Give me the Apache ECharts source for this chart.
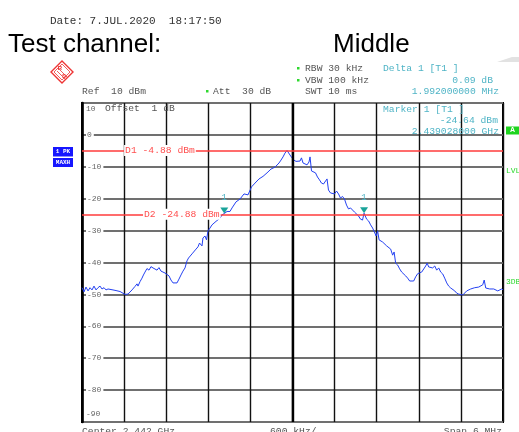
<!DOCTYPE html>
<html>
<head>
<meta charset="utf-8">
<script src="https://cdn.jsdelivr.net/npm/echarts@6/dist/echarts.min.js"></script>
<style>
  html, body { margin: 0; padding: 0; background: #fff; }
  #chart { width: 519px; height: 432px; }
</style>
</head>
<body>
<div id="chart"></div>
<script>
// Analyzer sweep settings
const centerMHz = 2442;
const spanMHz = 6;

// Max-hold trace: frequency (MHz) and level (dBm)
const freqMHz = [
  2439.000, 2439.029, 2439.057, 2439.086, 2439.114, 2439.143, 2439.171, 2439.200, 2439.228, 2439.257,
  2439.285, 2439.314, 2439.342, 2439.371, 2439.399, 2439.442, 2439.485, 2439.513, 2439.542, 2439.570,
  2439.613, 2439.656, 2439.684, 2439.713, 2439.755, 2439.784, 2439.798, 2439.827, 2439.855, 2439.876,
  2439.898, 2439.926, 2439.955, 2439.983, 2440.012, 2440.040, 2440.069, 2440.097, 2440.126, 2440.154,
  2440.183, 2440.211, 2440.240, 2440.268, 2440.297, 2440.325, 2440.354, 2440.382, 2440.411, 2440.439,
  2440.468, 2440.496, 2440.518, 2440.539, 2440.568, 2440.596, 2440.625, 2440.653, 2440.675, 2440.696,
  2440.710, 2440.724, 2440.753, 2440.774, 2440.796, 2440.824, 2440.853, 2440.881, 2440.910, 2440.938,
  2440.967, 2440.995, 2441.028, 2441.067, 2441.109, 2441.138, 2441.166, 2441.195, 2441.223, 2441.252,
  2441.280, 2441.309, 2441.337, 2441.366, 2441.394, 2441.416, 2441.437, 2441.466, 2441.494, 2441.523,
  2441.551, 2441.580, 2441.608, 2441.637, 2441.665, 2441.694, 2441.722, 2441.751, 2441.779, 2441.808,
  2441.836, 2441.865, 2441.893, 2441.922, 2441.943, 2441.964, 2441.993, 2442.021, 2442.050, 2442.078,
  2442.107, 2442.128, 2442.150, 2442.178, 2442.207, 2442.235, 2442.250, 2442.271, 2442.299, 2442.328,
  2442.356, 2442.385, 2442.413, 2442.442, 2442.470, 2442.492, 2442.513, 2442.542, 2442.570, 2442.599,
  2442.627, 2442.656, 2442.684, 2442.713, 2442.741, 2442.770, 2442.798, 2442.827, 2442.855, 2442.884,
  2442.912, 2442.941, 2442.969, 2442.998, 2443.020, 2443.056, 2443.085, 2443.113, 2443.142, 2443.170,
  2443.192, 2443.213, 2443.234, 2443.256, 2443.285, 2443.313, 2443.342, 2443.370, 2443.399, 2443.427,
  2443.448, 2443.470, 2443.499, 2443.527, 2443.556, 2443.584, 2443.613, 2443.641, 2443.670, 2443.698,
  2443.727, 2443.755, 2443.784, 2443.812, 2443.841, 2443.869, 2443.898, 2443.919, 2443.941, 2443.969,
  2443.998, 2444.027, 2444.055, 2444.084, 2444.112, 2444.141, 2444.169, 2444.198, 2444.226, 2444.255,
  2444.283, 2444.312, 2444.340, 2444.369, 2444.397, 2444.426, 2444.454, 2444.483, 2444.511, 2444.540,
  2444.568, 2444.597, 2444.625, 2444.654, 2444.682, 2444.711, 2444.732, 2444.754, 2444.782, 2444.811,
  2444.839, 2444.868, 2444.896, 2444.925, 2444.953, 2444.982, 2445.000
];
const levelDbm = [
  -47.9, -49.2, -47.7, -48.9, -47.9, -48.6, -47.4, -48.6, -47.9, -47.4,
  -48.3, -47.9, -48.6, -48.3, -48.9, -48.6, -48.8, -48.3, -49.1, -49.6,
  -50.0, -49.9, -49.4, -48.6, -47.5, -46.7, -47.4, -46.0, -44.9, -43.9,
  -43.0, -41.9, -42.4, -41.3, -41.7, -41.3, -42.4, -41.6, -42.7, -42.2,
  -43.3, -43.0, -44.2, -45.5, -46.4, -46.7, -46.4, -45.2, -43.9, -42.7,
  -41.7, -39.5, -38.6, -38.0, -37.3, -36.7, -35.8, -35.1, -33.9, -33.6,
  -34.8, -32.3, -31.7, -32.9, -30.1, -29.2, -28.2, -27.6, -27.1, -26.7,
  -26.1, -25.1, -24.64, -24.0, -24.0, -22.9, -22.3, -21.0, -20.4, -20.1,
  -19.6, -18.5, -18.2, -18.8, -18.7, -16.3, -15.7, -15.1, -14.6, -13.8,
  -13.5, -13.0, -12.6, -11.9, -11.6, -10.7, -10.4, -10.1, -9.8, -8.8,
  -7.9, -6.9, -5.7, -4.88, -5.2, -6.3, -7.2, -7.9, -8.3, -8.8,
  -8.2, -7.2, -8.8, -9.1, -9.4, -8.5, -6.9, -11.3, -11.6, -11.9,
  -13.2, -14.1, -15.1, -15.4, -14.8, -13.8, -17.3, -18.2, -18.2, -18.5,
  -17.6, -18.5, -19.8, -19.3, -20.1, -22.0, -23.2, -22.9, -23.5, -24.2,
  -24.8, -25.4, -26.4, -26.7, -24.55, -26.4, -27.0, -28.2, -29.2, -29.5,
  -31.7, -30.1, -32.9, -33.2, -33.6, -33.9, -34.8, -35.1, -35.8, -37.7,
  -36.7, -40.2, -40.8, -42.0, -43.0, -43.3, -44.2, -44.9, -45.8, -46.1,
  -45.8, -44.5, -43.5, -43.3, -43.0, -42.8, -41.1, -40.2, -41.4, -40.8,
  -41.7, -41.1, -42.4, -41.7, -43.0, -43.6, -44.9, -46.4, -47.4, -48.0,
  -48.3, -48.9, -49.6, -49.9, -50.0, -50.2, -49.6, -48.9, -48.6, -48.3,
  -48.6, -47.9, -48.1, -47.7, -47.4, -47.0, -45.5, -48.0, -48.0, -48.3,
  -48.5, -48.3, -48.6, -48.9, -49.2, -48.3, -48.6
];

// Level axis (dBm)
const levelMin = -90;
const levelMax = 10;
const levelStep = 10;

// Display lines
const displayLines = [
  { name: 'D1', level: -4.88, labelAtKHz: -2400 },
  { name: 'D2', level: -24.88, labelAtKHz: -2130 }
];

// Markers
const marker1 = { freqMHz: 2441.028, level: -24.64 };
const delta1 = { offsetMHz: 1.992, deltaDb: 0.09 };

// Readout text blocks
const markerReadout = ['Marker 1 [T1 ]', '-24.64 dBm', '2.439028000 GHz'];
const deltaReadout = ['Delta 1 [T1 ]', '0.09 dB', '1.992000000 MHz'];

const toKHz = f => (f - centerMHz) * 1000;
const traceData = freqMHz.map((f, i) => [toKHz(f), levelDbm[i]]);
const deltaPoint = [toKHz(marker1.freqMHz + delta1.offsetMHz), marker1.level + delta1.deltaDb];

const MONO = '"Liberation Mono", "DejaVu Sans Mono", monospace';
const GRAY = '#555';
const TEAL = '#4fb4c6';
const GREEN = '#2fd82f';
const RED = '#ff3b3b';

const halfSpanKHz = spanMHz * 500;
const divKHz = spanMHz * 1000 / 10;

function txt(text, x, y, opts) {
  opts = opts || {};
  return {
    type: 'text', x: x, y: y, silent: true, z: 10,
    style: {
      text: text,
      font: opts.font || ('9.7px ' + MONO),
      fill: opts.fill || GRAY,
      align: opts.align || 'left',
      verticalAlign: 'middle'
    }
  };
}

const graphics = [
  txt('Date: 7.JUL.2020  18:17:50', 50, 21, { font: '11px ' + MONO, fill: '#333' }),
  txt('Test channel:', 8, 45, { font: '26px "Liberation Sans", Arial, sans-serif', fill: '#000' }),
  txt('Middle', 333, 45, { font: '26px "Liberation Sans", Arial, sans-serif', fill: '#000' }),

  // R&S emblem
  { type: 'polygon', silent: true, shape: { points: [[62, 61], [73, 72], [62, 83], [51, 72]] },
    style: { fill: 'none', stroke: '#e33', lineWidth: 1.4 } },
  { type: 'polygon', silent: true, shape: { points: [[62, 64], [70, 72], [62, 80], [54, 72]] },
    style: { fill: 'none', stroke: '#e33', lineWidth: 0.8 } },
  { type: 'line', silent: true, shape: { x1: 57, y1: 71, x2: 66, y2: 80 }, style: { stroke: '#e33', lineWidth: 0.8 } },
  { type: 'line', silent: true, shape: { x1: 58, y1: 68, x2: 68, y2: 78 }, style: { stroke: '#e33', lineWidth: 0.8 } },
  txt('R', 60, 68.5, { font: 'bold 6px "Liberation Sans"', fill: '#e33', align: 'center' }),
  txt('S', 64, 76.5, { font: 'bold 6px "Liberation Sans"', fill: '#e33', align: 'center' }),

  // small gray wedge at the top right
  { type: 'polygon', silent: true, shape: { points: [[497, 62], [512, 57], [519, 57], [519, 62]] },
    style: { fill: '#e2e2e2' } },

  // settings header
  { type: 'rect', silent: true, shape: { x: 297, y: 67, width: 2.5, height: 2.5 }, style: { fill: GREEN } },
  { type: 'rect', silent: true, shape: { x: 297, y: 79, width: 2.5, height: 2.5 }, style: { fill: GREEN } },
  { type: 'rect', silent: true, shape: { x: 206, y: 90, width: 2.5, height: 2.5 }, style: { fill: GREEN } },
  txt('RBW 30 kHz', 305, 68.3),
  txt('VBW 100 kHz', 305, 80.3),
  txt('SWT 10 ms', 305, 91.3),
  txt('Ref  10 dBm', 82, 91.3),
  txt('Att  30 dB', 213, 91.3),
  txt(deltaReadout[0], 383, 68.3, { fill: TEAL }),
  txt(deltaReadout[1], 493, 80.3, { fill: TEAL, align: 'right' }),
  txt(deltaReadout[2], 499, 91.3, { fill: TEAL, align: 'right' }),

  // inside the diagram
  txt('Offset  1 dB', 105, 108.5),
  txt(markerReadout[0], 383, 109, { fill: TEAL }),
  txt(markerReadout[1], 498, 120, { fill: TEAL, align: 'right' }),
  txt(markerReadout[2], 499, 131, { fill: TEAL, align: 'right' }),

  // trace status boxes
  { type: 'rect', silent: true, shape: { x: 53, y: 147, width: 20, height: 9.5 }, style: { fill: '#1616ff' } },
  txt('1 PK', 63, 151.8, { font: 'bold 6px ' + MONO, fill: '#fff', align: 'center' }),
  { type: 'rect', silent: true, shape: { x: 53, y: 158, width: 20, height: 9 }, style: { fill: '#1616ff' } },
  txt('MAXH', 63, 162.5, { font: 'bold 6px ' + MONO, fill: '#fff', align: 'center' }),

  // right-side flags
  { type: 'rect', silent: true, shape: { x: 506, y: 126.5, width: 13, height: 8 }, style: { fill: '#1fd41f' } },
  txt('A', 512.5, 130.5, { font: 'bold 7px "Liberation Sans"', fill: '#fff', align: 'center' }),
  txt('LVL', 506, 171, { font: '8px ' + MONO, fill: GREEN }),
  txt('3DB', 506, 282, { font: '8px ' + MONO, fill: GREEN }),

  // span footer
  txt('Center ' + (centerMHz / 1000).toFixed(3) + ' GHz', 82, 431, { fill: GRAY }),
  txt(divKHz + ' kHz/', 270, 431, { fill: GRAY }),
  txt('Span ' + spanMHz + ' MHz', 502, 431, { fill: GRAY, align: 'right' })
];

const chart = echarts.init(document.getElementById('chart'), null, { renderer: 'canvas' });

const option = {
  animation: false,
  backgroundColor: '#fff',
  grid: {
    left: 82, top: 103, width: 421, height: 319,
    show: true, borderColor: '#000', borderWidth: 2, backgroundColor: 'transparent'
  },
  xAxis: {
    type: 'value',
    min: -halfSpanKHz, max: halfSpanKHz, interval: divKHz,
    axisLine: { show: false }, axisTick: { show: false }, axisLabel: { show: false },
    splitLine: { show: true, lineStyle: { color: '#111', width: 1.4 } }
  },
  yAxis: [
    {
      type: 'value', min: levelMin, max: levelMax, interval: levelStep,
      axisLine: { show: false }, axisTick: { show: false }, axisLabel: { show: false },
      splitLine: { show: true, lineStyle: { color: '#707070', width: 2 } }
    },
    {
      type: 'value', min: levelMin, max: levelMax, interval: levelStep,
      position: 'left', offset: 0, z: 1,
      axisLine: { show: true, onZero: false, lineStyle: { color: '#000', width: 2.6 } },
      axisTick: { show: false },
      splitLine: { show: false },
      axisLabel: {
        inside: true, margin: 4,
        color: '#666', fontFamily: MONO, fontSize: 8,
        formatter: function (v) {
          if (v === levelMax) return '{t|' + v + '}';
          if (v === levelMin) return '{b|' + v + '}';
          return '{n|' + v + '}';
        },
        rich: {
          t: { color: '#666', fontFamily: MONO, fontSize: 8, padding: [11, 0, 0, 0] },
          b: { color: '#666', fontFamily: MONO, fontSize: 8, padding: [0, 0, 16, 0] },
          n: { color: '#666', fontFamily: MONO, fontSize: 8, backgroundColor: '#fff', padding: [1, 2, 1, 1] }
        }
      }
    }
  ],
  series: [
    {
      name: 'lines', type: 'line', data: [], z: 2, silent: true,
      markLine: {
        silent: true, symbol: 'none', animation: false,
        label: { show: false },
        data: [
          { xAxis: 0, lineStyle: { color: '#000', width: 2.4, type: 'solid' } }
        ].concat(displayLines.map(d => ({
          yAxis: d.level, lineStyle: { color: RED, width: 1.5, type: 'solid' }
        })))
      }
    },
    {
      name: 'trace', type: 'line', data: traceData, z: 3,
      showSymbol: false, symbol: 'none',
      lineStyle: { color: '#2441f2', width: 1 },
      markPoint: {
        silent: true,
        data: [
          { coord: [toKHz(marker1.freqMHz), marker1.level] },
          { coord: deltaPoint }
        ],
        symbol: 'triangle', symbolRotate: 180, symbolSize: [8, 6], symbolOffset: [0, -3],
        itemStyle: { color: '#1aa39a' },
        label: {
          show: true, position: 'top', distance: 5,
          formatter: '1', color: TEAL, fontFamily: MONO, fontSize: 9
        }
      }
    },
    {
      name: 'line labels', type: 'line', data: [], z: 4, silent: true,
      markPoint: {
        silent: true, symbol: 'rect', symbolSize: 0,
        data: displayLines.map(d => ({ coord: [d.labelAtKHz, d.level], name: d.name, value: d.level })),
        label: {
          show: true, position: 'right', distance: 0,
          formatter: p => p.name + ' ' + p.value.toFixed(2) + ' dBm',
          color: '#ff5050', fontFamily: MONO, fontSize: 9.7,
          backgroundColor: '#fff', padding: [1, 1, 0, 1]
        }
      }
    }
  ],
  graphic: graphics
};

chart.setOption(option);
</script>
</body>
</html>
